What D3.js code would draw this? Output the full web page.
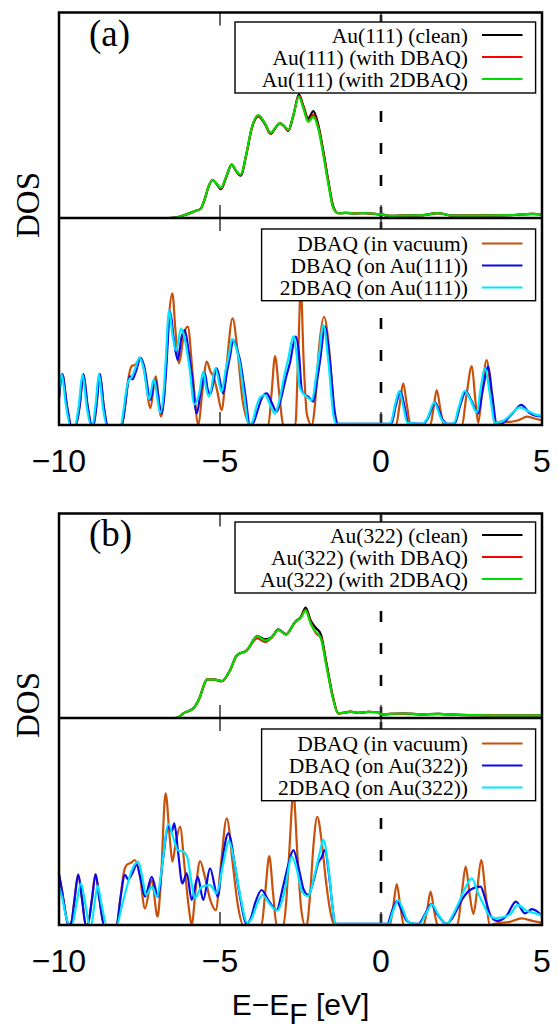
<!DOCTYPE html>
<html><head><meta charset="utf-8">
<script src="https://cdn.jsdelivr.net/npm/d3@7"></script>
<style>body{margin:0;background:#fff}svg{display:block}</style>
</head><body>
<script>
// ---------------- DATA ----------------
const energyDomain = [-10, 5];
const xTickValues = [-10, -5, 0, 5];
const xTickLabels = ["\u221210", "\u22125", "0", "5"];
const xAxisLabel = ["E\u2212E", "F", " [eV]"];
const yAxisLabel = "DOS";
const panelLabels = ["(a)", "(b)"];

const legendA_top = ["Au(111) (clean)", "Au(111) (with DBAQ)", "Au(111) (with 2DBAQ)"];
const legendA_bot = ["DBAQ (in vacuum)", "DBAQ (on Au(111))", "2DBAQ (on Au(111))"];
const legendB_top = ["Au(322) (clean)", "Au(322) (with DBAQ)", "Au(322) (with 2DBAQ)"];
const legendB_bot = ["DBAQ (in vacuum)", "DBAQ (on Au(322))", "2DBAQ (on Au(322))"];

// (a) Au(111) substrate DOS  [E, DOS]
const a_au_clean = [[-10,0],[-6.6,0],[-6.3,0.05],[-6.0,0.2],[-5.75,0.35],[-5.6,0.45],[-5.47,0.94],[-5.35,1.55],[-5.23,1.85],[-5.1,1.64],[-4.97,1.4],[-4.8,2.02],[-4.64,2.6],[-4.5,2.28],[-4.36,2.06],[-4.17,3.18],[-4.02,4.32],[-3.81,4.95],[-3.6,4.56],[-3.43,4.1],[-3.26,4.42],[-3.14,4.6],[-2.98,4.42],[-2.88,4.24],[-2.72,5.0],[-2.55,6.02],[-2.41,5.45],[-2.26,4.85],[-2.1,5.2],[-1.95,4.55],[-1.79,3.25],[-1.64,1.85],[-1.48,0.55],[-1.33,0.23],[-1.1,0.25],[-0.8,0.22],[-0.5,0.24],[-0.2,0.2],[0,0.18],[0.3,0.1],[0.8,0.12],[1.3,0.14],[1.76,0.24],[2.2,0.12],[3,0.12],[4,0.14],[4.7,0.2],[5,0.18]];
const a_au_dbaq = [[-10,0],[-6.6,0],[-6.3,0.05],[-6.0,0.2],[-5.75,0.35],[-5.6,0.45],[-5.47,0.95],[-5.35,1.55],[-5.23,1.85],[-5.1,1.65],[-4.97,1.44],[-4.8,2.04],[-4.64,2.6],[-4.5,2.3],[-4.36,2.1],[-4.17,3.2],[-4.02,4.34],[-3.81,4.98],[-3.6,4.58],[-3.43,4.12],[-3.26,4.43],[-3.14,4.6],[-2.98,4.43],[-2.88,4.26],[-2.72,5.0],[-2.55,5.95],[-2.41,5.4],[-2.26,4.75],[-2.1,5.02],[-1.95,4.45],[-1.79,3.15],[-1.64,1.78],[-1.48,0.5],[-1.33,0.23],[-1.1,0.25],[-0.8,0.22],[-0.5,0.24],[-0.2,0.2],[0,0.18],[0.3,0.1],[0.8,0.12],[1.3,0.14],[1.76,0.24],[2.2,0.12],[3,0.12],[4,0.14],[4.7,0.2],[5,0.18]];
const a_au_2dbaq = [[-10,0],[-6.6,0],[-6.3,0.05],[-6.0,0.2],[-5.75,0.35],[-5.6,0.45],[-5.47,0.96],[-5.35,1.55],[-5.23,1.85],[-5.1,1.66],[-4.97,1.47],[-4.8,2.05],[-4.64,2.61],[-4.5,2.3],[-4.36,2.12],[-4.17,3.22],[-4.02,4.36],[-3.81,5.01],[-3.6,4.6],[-3.43,4.15],[-3.26,4.44],[-3.14,4.6],[-2.98,4.44],[-2.88,4.28],[-2.72,5.01],[-2.55,5.9],[-2.41,5.33],[-2.26,4.68],[-2.1,4.92],[-1.95,4.36],[-1.79,3.06],[-1.64,1.69],[-1.48,0.47],[-1.33,0.23],[-1.1,0.25],[-0.8,0.22],[-0.5,0.24],[-0.2,0.2],[0,0.18],[0.3,0.1],[0.8,0.12],[1.3,0.14],[1.76,0.24],[2.2,0.12],[3,0.12],[4,0.14],[4.7,0.2],[5,0.18]];

// (a) molecule projected DOS
const a_mol_vac = [[-10,1.3],[-9.9,2.46],[-9.75,0.9],[-9.62,0],[-9.48,0],[-9.36,0.9],[-9.24,2.45],[-9.11,0.9],[-8.98,0],[-8.93,0],[-8.84,0.9],[-8.73,2.46],[-8.61,0.9],[-8.49,0],[-8.05,0],[-7.95,0.9],[-7.85,2.2],[-7.74,2.85],[-7.64,2.9],[-7.46,3.2],[-7.35,2.6],[-7.16,0.82],[-7.0,2.35],[-6.83,0.4],[-6.72,1.8],[-6.62,4.5],[-6.48,6.36],[-6.38,4.5],[-6.27,2.98],[-6.12,4.4],[-6.0,4.75],[-5.85,2.5],[-5.67,0],[-5.55,1.6],[-5.41,3.06],[-5.3,2.6],[-5.2,2.33],[-5.08,1.6],[-4.95,0.72],[-4.8,2.8],[-4.61,5.15],[-4.45,3.5],[-4.3,1.2],[-4.05,0],[-3.5,0],[-3.4,1.5],[-3.29,3.33],[-3.16,1.5],[-3.03,0],[-2.66,0],[-2.58,3.0],[-2.49,6.6],[-2.4,3.0],[-2.3,0.5],[-2.15,0],[-2.05,1.0],[-1.92,3.8],[-1.77,5.23],[-1.6,3.5],[-1.45,0.6],[-1.38,0],[0.47,0],[0.58,1.0],[0.69,2.01],[0.8,1.0],[0.92,0],[1.53,0],[1.63,0.8],[1.73,1.69],[1.84,0.8],[1.95,0],[2.51,0],[2.66,1.5],[2.82,2.85],[2.93,1.2],[3.02,0.1],[3.14,1.6],[3.28,3.14],[3.42,1.5],[3.54,0],[3.7,0.16],[4.0,0.15],[4.3,0.25],[4.53,0.4],[4.8,0.3],[5,0.22]];
const a_mol_on = [[-10,1.3],[-9.9,2.46],[-9.75,0.9],[-9.62,0],[-9.48,0],[-9.36,0.9],[-9.24,2.45],[-9.11,0.9],[-8.98,0],[-8.93,0],[-8.84,0.9],[-8.73,2.46],[-8.61,0.9],[-8.49,0],[-8.05,0],[-7.95,0.9],[-7.88,1.8],[-7.8,2.35],[-7.72,2.2],[-7.62,2.55],[-7.46,3.25],[-7.35,2.8],[-7.16,1.21],[-7.02,2.17],[-6.81,0.56],[-6.72,1.6],[-6.66,2.98],[-6.55,5.48],[-6.44,4.2],[-6.31,3.14],[-6.2,4.2],[-6.09,4.59],[-5.98,3.6],[-5.88,2.5],[-5.72,0.56],[-5.6,1.6],[-5.47,2.5],[-5.38,1.7],[-5.3,1.5],[-5.1,2.74],[-4.9,1.53],[-4.78,2.6],[-4.69,3.3],[-4.59,4.11],[-4.48,3.7],[-4.38,3.14],[-4.22,1.53],[-4.07,0],[-3.95,0.15],[-3.86,0.56],[-3.7,1.3],[-3.55,1.53],[-3.4,1.1],[-3.24,0.64],[-3.1,1.3],[-2.95,2.3],[-2.83,2.98],[-2.65,4.27],[-2.55,3.5],[-2.46,1.69],[-2.36,1.45],[-2.26,1.37],[-2.1,1.13],[-1.98,2.2],[-1.89,3.14],[-1.74,4.75],[-1.58,2.98],[-1.43,0.56],[-1.33,0.05],[0,0.05],[0.25,0.05],[0.33,0.1],[0.47,1.0],[0.61,1.61],[0.73,0.9],[0.85,0.1],[1.3,0.05],[1.45,0.3],[1.68,1.08],[1.9,0.3],[2.09,0.05],[2.3,0.1],[2.45,0.9],[2.64,1.61],[2.8,1.2],[3.02,0.56],[3.15,1.6],[3.33,2.82],[3.45,1.5],[3.59,0.1],[3.75,0.08],[4.05,0.5],[4.36,0.97],[4.6,0.6],[4.8,0.45],[5,0.42]];
const a_mol2_on = [[-10,1.6],[-9.92,2.46],[-9.78,0.9],[-9.65,0],[-9.5,0],[-9.39,0.9],[-9.27,2.45],[-9.14,0.9],[-9.01,0],[-8.96,0],[-8.87,0.9],[-8.76,2.46],[-8.64,0.9],[-8.52,0],[-8.08,0],[-7.98,0.9],[-7.9,1.8],[-7.82,2.2],[-7.75,2.3],[-7.64,2.7],[-7.5,3.27],[-7.38,2.8],[-7.2,1.25],[-7.06,2.2],[-6.85,0.6],[-6.75,1.6],[-6.69,3.0],[-6.58,5.55],[-6.47,4.3],[-6.36,3.6],[-6.21,4.67],[-6.1,4.2],[-5.95,2.8],[-5.8,1.0],[-5.65,1.5],[-5.52,2.58],[-5.42,1.7],[-5.34,1.37],[-5.14,2.75],[-4.95,1.6],[-4.82,2.7],[-4.72,3.4],[-4.63,4.15],[-4.5,3.75],[-4.4,3.1],[-4.25,1.4],[-4.1,0],[-3.98,0.2],[-3.9,0.7],[-3.75,1.35],[-3.6,1.45],[-3.45,1.0],[-3.3,0.55],[-3.14,1.3],[-3.0,2.4],[-2.88,3.2],[-2.72,4.3],[-2.62,3.4],[-2.52,1.8],[-2.4,1.5],[-2.3,1.35],[-2.14,1.2],[-2.02,2.3],[-1.93,3.3],[-1.79,4.83],[-1.63,3.0],[-1.48,0.5],[-1.38,0.05],[0,0.05],[0.22,0.05],[0.3,0.1],[0.44,1.0],[0.57,1.65],[0.69,0.9],[0.82,0.1],[1.28,0.05],[1.43,0.3],[1.65,1.08],[1.87,0.3],[2.07,0.05],[2.27,0.1],[2.42,0.9],[2.6,1.65],[2.78,1.2],[2.98,0.6],[3.08,1.6],[3.23,2.74],[3.38,1.5],[3.54,0.1],[3.72,0.15],[4.0,0.45],[4.3,0.85],[4.6,0.65],[4.8,0.5],[5,0.45]];

// (b) Au(322) substrate DOS
const b_au_clean = [[-10,0],[-6.4,0],[-6.3,0.03],[-6.14,0.23],[-5.83,0.47],[-5.62,1.04],[-5.5,1.6],[-5.41,1.88],[-5.16,1.88],[-4.95,1.8],[-4.69,2.33],[-4.48,3.06],[-4.17,3.31],[-3.84,4.0],[-3.6,3.85],[-3.39,3.97],[-3.19,4.33],[-2.95,4.1],[-2.67,4.7],[-2.49,4.95],[-2.34,5.4],[-2.18,4.75],[-2.02,4.4],[-1.87,4.1],[-1.69,2.65],[-1.48,0.95],[-1.33,0.23],[-1.12,0.26],[-0.96,0.31],[-0.7,0.25],[-0.4,0.3],[-0.1,0.28],[0,0.18],[0.3,0.2],[0.7,0.22],[1.2,0.18],[1.8,0.2],[2.4,0.15],[3.0,0.14],[3.6,0.12],[4.2,0.12],[4.6,0.12],[5,0.14]];
const b_au_dbaq = [[-10,0],[-6.4,0],[-6.3,0.03],[-6.14,0.23],[-5.83,0.47],[-5.62,1.04],[-5.5,1.6],[-5.41,1.88],[-5.16,1.88],[-4.95,1.8],[-4.69,2.33],[-4.48,3.06],[-4.17,3.31],[-3.84,3.9],[-3.6,3.72],[-3.39,3.93],[-3.19,4.31],[-2.95,4.08],[-2.67,4.68],[-2.49,4.92],[-2.34,5.3],[-2.18,4.65],[-2.02,4.15],[-1.87,3.95],[-1.69,2.55],[-1.48,0.9],[-1.33,0.23],[-1.12,0.26],[-0.96,0.31],[-0.7,0.25],[-0.4,0.3],[-0.1,0.28],[0,0.18],[0.3,0.2],[0.7,0.22],[1.2,0.18],[1.8,0.2],[2.4,0.15],[3.0,0.14],[3.6,0.12],[4.2,0.12],[4.6,0.12],[5,0.14]];
const b_au_2dbaq = [[-10,0],[-6.4,0],[-6.3,0.03],[-6.14,0.23],[-5.83,0.47],[-5.62,1.04],[-5.5,1.6],[-5.41,1.88],[-5.16,1.88],[-4.95,1.81],[-4.69,2.33],[-4.48,3.06],[-4.17,3.31],[-3.84,3.99],[-3.6,3.79],[-3.39,3.95],[-3.19,4.31],[-2.95,4.08],[-2.67,4.68],[-2.49,4.9],[-2.34,5.25],[-2.18,4.6],[-2.02,4.2],[-1.87,3.9],[-1.69,2.49],[-1.48,0.88],[-1.33,0.23],[-1.12,0.26],[-0.96,0.31],[-0.7,0.25],[-0.4,0.3],[-0.1,0.28],[0,0.18],[0.3,0.2],[0.7,0.22],[1.2,0.18],[1.8,0.2],[2.4,0.15],[3.0,0.14],[3.6,0.12],[4.2,0.12],[4.6,0.12],[5,0.14]];

// (b) molecule projected DOS
const b_mol_vac = [[-10,2.45],[-9.9,1.6],[-9.8,0.6],[-9.71,0],[-9.62,0.1],[-9.52,1.2],[-9.41,2.45],[-9.28,1.2],[-9.17,0],[-9.11,0],[-8.98,1.2],[-8.87,2.45],[-8.74,1.2],[-8.6,0],[-8.21,0],[-8.1,1.2],[-7.98,2.6],[-7.9,2.9],[-7.77,3.0],[-7.64,3.14],[-7.5,2.5],[-7.33,0.8],[-7.12,2.17],[-6.94,0.4],[-6.84,2.0],[-6.69,6.36],[-6.56,4.2],[-6.48,3.06],[-6.38,3.9],[-6.24,4.75],[-6.1,2.8],[-5.95,0.6],[-5.88,0],[-5.75,1.8],[-5.62,3.09],[-5.47,2.33],[-5.3,1.2],[-5.13,0.72],[-4.98,2.8],[-4.79,5.15],[-4.6,2.9],[-4.45,1.0],[-4.28,0],[-3.71,0],[-3.6,1.5],[-3.47,3.33],[-3.35,1.5],[-3.24,0],[-3.03,0],[-2.95,1.0],[-2.85,3.5],[-2.72,6.4],[-2.6,3.5],[-2.48,0.8],[-2.36,0],[-2.31,0],[-2.2,1.5],[-2.1,3.8],[-1.98,5.23],[-1.84,4.0],[-1.7,2.0],[-1.58,0.7],[-1.45,0],[0.27,0],[0.38,0.9],[0.49,1.98],[0.6,0.9],[0.71,0],[1.32,0],[1.43,0.7],[1.54,1.61],[1.65,0.7],[1.76,0],[2.37,0],[2.5,1.4],[2.63,2.82],[2.75,1.5],[2.87,0.53],[2.98,1.6],[3.11,3.14],[3.25,1.5],[3.37,0],[3.6,0.08],[4.0,0.15],[4.36,0.32],[4.7,0.2],[5,0.1]];
const b_mol_on = [[-10,2.45],[-9.9,1.6],[-9.8,0.6],[-9.71,0],[-9.62,0.1],[-9.52,1.2],[-9.4,2.42],[-9.28,1.2],[-9.17,0],[-9.11,0],[-8.98,1.2],[-8.86,2.45],[-8.74,1.2],[-8.6,0],[-8.21,0],[-8.1,1.2],[-7.95,2.42],[-7.85,2.2],[-7.72,2.5],[-7.59,2.9],[-7.46,2.2],[-7.33,1.37],[-7.12,2.33],[-6.92,1.37],[-6.8,2.8],[-6.6,4.75],[-6.5,4.5],[-6.42,4.91],[-6.3,3.5],[-6.17,2.01],[-6.03,2.5],[-5.88,1.21],[-5.69,2.33],[-5.52,1.21],[-5.31,2.74],[-5.07,1.37],[-4.92,3.2],[-4.74,4.43],[-4.53,2.82],[-4.38,1.37],[-4.17,0.05],[-4.05,0.3],[-3.9,1.1],[-3.71,1.69],[-3.5,1.2],[-3.24,0.72],[-3.05,1.8],[-2.88,2.9],[-2.72,3.62],[-2.55,2.7],[-2.4,1.7],[-2.26,1.45],[-2.1,2.1],[-1.95,3.0],[-1.85,3.25],[-1.74,3.62],[-1.62,2.5],[-1.5,0.8],[-1.43,0.05],[0,0.05],[0.19,0.05],[0.35,0.7],[0.49,1.15],[0.62,0.8],[0.8,0.2],[1.05,0.05],[1.16,0.05],[1.36,0.5],[1.56,1.01],[1.76,0.5],[2.04,0.05],[2.2,0.3],[2.54,1.29],[2.76,1.69],[3.09,1.85],[3.25,1.2],[3.42,0.4],[3.6,0.2],[3.9,0.45],[4.19,1.13],[4.47,0.56],[4.69,0.77],[5,0.45]];
const b_mol2_on = [[-10,1.84],[-9.9,1.3],[-9.78,0.4],[-9.68,0],[-9.6,0],[-9.46,1.0],[-9.32,2.01],[-9.18,1.0],[-9.05,0],[-9.0,0],[-8.9,1.0],[-8.8,1.9],[-8.68,1.0],[-8.52,0],[-8.21,0],[-8.05,0.9],[-7.9,1.8],[-7.75,2.6],[-7.54,3.06],[-7.4,2.2],[-7.3,1.45],[-7.12,1.84],[-6.95,1.35],[-6.82,2.6],[-6.6,4.88],[-6.45,4.2],[-6.3,3.6],[-6.15,3.55],[-6.02,3.3],[-5.9,2.2],[-5.78,1.29],[-5.57,1.85],[-5.31,1.93],[-5.1,1.53],[-4.92,2.8],[-4.72,4.05],[-4.55,3.0],[-4.38,1.5],[-4.15,0.1],[-4.02,0.3],[-3.85,1.0],[-3.68,1.45],[-3.45,1.0],[-3.22,0.7],[-3.0,1.6],[-2.77,3.3],[-2.6,2.6],[-2.45,1.6],[-2.27,1.4],[-2.05,2.5],[-1.9,3.5],[-1.79,4.11],[-1.65,3.0],[-1.5,0.8],[-1.43,0.05],[0,0.05],[0.22,0.05],[0.38,0.7],[0.54,1.2],[0.67,0.8],[0.85,0.15],[1.1,0.05],[1.2,0.05],[1.38,0.5],[1.58,1.0],[1.78,0.5],[2.05,0.05],[2.2,0.4],[2.45,1.2],[2.65,1.9],[2.82,2.25],[3.0,1.6],[3.18,1.0],[3.4,0.4],[3.6,0.33],[4.0,0.5],[4.25,0.97],[4.5,0.7],[4.7,0.6],[5,0.48]];

const substrateColors = ["#000000", "#ff0000", "#00dd00"];
const moleculeColors = ["#c8500a", "#0a0ae6", "#00e8ff"];

// ---------------- DRAWING ----------------
const W = 558, H = 1030;
const svg = d3.select("body").append("svg").attr("width", W).attr("height", H);
const x = d3.scaleLinear().domain(energyDomain).range([59, 542]);

const panels = [
  {label: panelLabels[0], top: 12.5, mid: 218, bottom: 425, off: 0,
   up: [a_au_clean, a_au_dbaq, a_au_2dbaq], low: [a_mol_vac, a_mol_on, a_mol2_on],
   legUp: legendA_top, legLow: legendA_bot},
  {label: panelLabels[1], top: 513.5, mid: 718, bottom: 925, off: 500,
   up: [b_au_clean, b_au_dbaq, b_au_2dbaq], low: [b_mol_vac, b_mol_on, b_mol2_on],
   legUp: legendB_top, legLow: legendB_bot}
];

const defs = svg.append("defs");

panels.forEach((p, i) => {
  const g = svg.append("g");
  const yU = d3.scaleLinear().domain([0, 10]).range([p.mid, p.top]);
  const yL = d3.scaleLinear().domain([0, 10]).range([p.bottom, p.mid]);

  defs.append("clipPath").attr("id", "cu" + i).append("rect")
    .attr("x", x(-10)).attr("y", p.top).attr("width", x(5) - x(-10)).attr("height", p.mid - p.top);
  defs.append("clipPath").attr("id", "cl" + i).append("rect")
    .attr("x", x(-10)).attr("y", p.mid).attr("width", x(5) - x(-10)).attr("height", p.bottom - p.mid);

  // Fermi level dashed line
  g.append("line").attr("x1", x(0)).attr("x2", x(0)).attr("y1", p.mid).attr("y2", p.top)
    .attr("stroke", "#000").attr("stroke-width", 2.6).attr("stroke-dasharray", "11,21");
  g.append("line").attr("x1", x(0)).attr("x2", x(0)).attr("y1", p.bottom).attr("y2", p.mid)
    .attr("stroke", "#000").attr("stroke-width", 2.6).attr("stroke-dasharray", "11,21");

  // ticks
  const tickG = g.append("g").attr("stroke", "#333").attr("stroke-width", 1.5);
  [-5, 0].forEach(t => {
    const xx = x(t);
    [[p.top, p.top + 13], [p.mid, p.mid - 13], [p.mid, p.mid + 13], [p.bottom, p.bottom - 13]].forEach(([a, b]) => {
      tickG.append("line").attr("x1", xx).attr("x2", xx).attr("y1", a).attr("y2", b);
    });
  });

  const lineU = d3.line().x(d => x(d[0])).y(d => yU(d[1])).curve(d3.curveMonotoneX);
  const lineL = d3.line().x(d => x(d[0])).y(d => yL(d[1])).curve(d3.curveMonotoneX);

  const gu = g.append("g").attr("clip-path", `url(#cu${i})`);
  p.up.forEach((s, k) => {
    gu.append("path").attr("d", lineU(s)).attr("fill", "none")
      .attr("stroke", substrateColors[k]).attr("stroke-width", 2.2).attr("stroke-linejoin", "round");
  });
  const gl = g.append("g").attr("clip-path", `url(#cl${i})`);
  p.low.forEach((s, k) => {
    gl.append("path").attr("d", lineL(s)).attr("fill", "none")
      .attr("stroke", moleculeColors[k]).attr("stroke-width", 2.2).attr("stroke-linejoin", "round");
  });

  // legends
  function legend(names, colors, boxX, boxY, boxW, boxH, lineY0) {
    const lg = g.append("g");
    lg.append("rect").attr("x", boxX).attr("y", boxY).attr("width", boxW).attr("height", boxH)
      .attr("fill", "#fff").attr("stroke", "#000").attr("stroke-width", 1.4);
    names.forEach((n, k) => {
      const ly = lineY0 + k * 22;
      lg.append("text").attr("x", 468).attr("y", ly + 7.5).attr("text-anchor", "end")
        .attr("font-family", "'Liberation Serif', 'Times New Roman', serif").attr("font-size", 21.5)
        .attr("fill", "#000").text(n);
      lg.append("line").attr("x1", 482).attr("x2", 522.5).attr("y1", ly).attr("y2", ly)
        .attr("stroke", colors[k]).attr("stroke-width", 2.2);
    });
  }
  legend(p.legUp, substrateColors, 235, 22 + p.off, 300.6, 71, 35 + p.off);
  legend(p.legLow, moleculeColors, 261.6, 229 + p.off, 274, 71.7, 243.5 + p.off);

  // frame
  g.append("rect").attr("x", x(-10)).attr("y", p.top).attr("width", x(5) - x(-10)).attr("height", p.bottom - p.top)
    .attr("fill", "none").attr("stroke", "#000").attr("stroke-width", 2.5);
  g.append("line").attr("x1", x(-10)).attr("x2", x(5)).attr("y1", p.mid).attr("y2", p.mid)
    .attr("stroke", "#000").attr("stroke-width", 2.5);

  // tick labels
  xTickValues.forEach((t, k) => {
    g.append("text").attr("x", x(t)).attr("y", p.bottom + 46.5).attr("text-anchor", "middle")
      .attr("font-family", "'Liberation Sans', Arial, sans-serif").attr("font-size", 32)
      .attr("fill", "#000").text(xTickLabels[k]);
  });

  // panel label
  g.append("text").attr("x", 89).attr("y", 46 + p.off)
    .attr("font-family", "'Liberation Serif', 'Times New Roman', serif").attr("font-size", 37)
    .attr("fill", "#000").text(p.label);

  // DOS label
  g.append("text").attr("transform", `translate(39,${205 + p.off}) rotate(-90)`).attr("text-anchor", "middle")
    .attr("font-family", "'Liberation Serif', 'Times New Roman', serif").attr("font-size", 33)
    .attr("fill", "#000").text(yAxisLabel);
});

// x axis label
const xl = svg.append("text").attr("x", (x(-10) + x(5)) / 2).attr("y", 1015).attr("text-anchor", "middle")
  .attr("font-family", "'Liberation Sans', Arial, sans-serif").attr("font-size", 30).attr("fill", "#000");
xl.append("tspan").text(xAxisLabel[0]);
xl.append("tspan").attr("dy", 9).text(xAxisLabel[1]);
xl.append("tspan").attr("dy", -9).text(xAxisLabel[2]);
</script>
</body></html>
